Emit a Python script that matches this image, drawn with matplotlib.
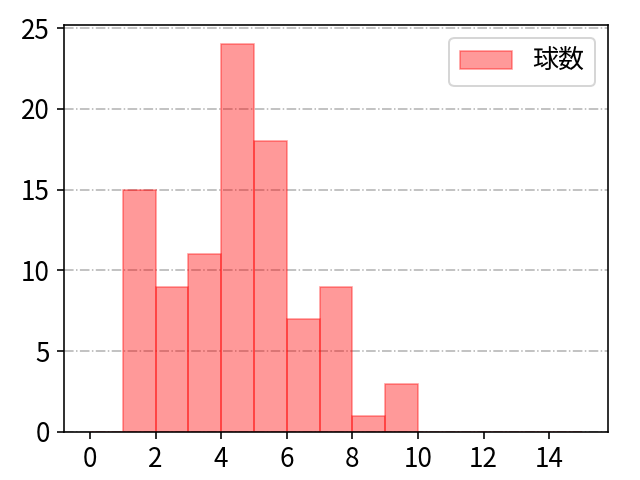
import matplotlib
matplotlib.use("Agg")
import matplotlib.pyplot as plt

plt.rcParams['font.family'] = ['Noto Sans CJK JP', 'DejaVu Sans']

# histogram bins (width 1) and counts
bin_edges = list(range(0, 16))
counts = [0, 15, 9, 11, 24, 18, 7, 9, 1, 3, 0, 0, 0, 0, 0]
label = "球数"

fig, ax = plt.subplots(figsize=(6.4 / 1.44, 4.8 / 1.44), dpi=144)
ax.bar(bin_edges[:-1], counts, width=1, align="edge",
       color="red", alpha=0.4, edgecolor="red", linewidth=0.8, label=label)
ax.set_xlim(-0.79, 15.79)
ax.set_ylim(0, 25.2)
ax.set_xticks(range(0, 15, 2))
ax.set_yticks(range(0, 26, 5))
ax.tick_params(labelsize=13)
ax.yaxis.grid(True, linestyle="-.", color="#b0b0b0", linewidth=0.75)
ax.set_axisbelow(True)
ax.legend(loc="upper right", fontsize=13)
fig.subplots_adjust(left=0.1, right=0.95, top=0.948, bottom=0.1)
fig.savefig("out.png")
